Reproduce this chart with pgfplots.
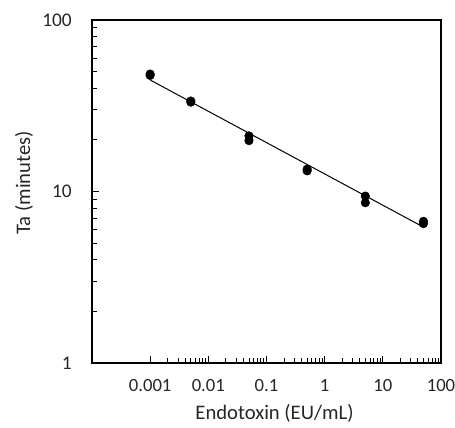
\documentclass[border=0pt]{standalone}
\usepackage{pgfplots}
\pgfplotsset{compat=1.18}
\usepackage{fontspec}
\setmainfont{Carlito}
\begin{document}
\begin{tikzpicture}
\begin{axis}[
  at={(0,0)}, anchor=south west,
  scale only axis,
  width=261.75pt, height=257.25pt,
  xmode=log, ymode=log,
  xmin=1e-4, xmax=100, ymin=1, ymax=100,
  xtick={0.001,0.01,0.1,1,10,100},
  xticklabels={0.001,0.01,0.1,1,10,100},
  ytick={1,10,100},
  yticklabels={1,10,100},
  minor x tick num=8,
  tick pos=left,
  tick align=inside,
  major tick length=5pt,
  minor tick length=3.5pt,
  axis line style={line width=1.1pt},
  every tick/.style={black, line width=0.6pt},
  /pgf/number format/assume math mode=true,
  xticklabel style={font=\fontsize{14}{16}\selectfont, text=black!85, anchor=center, inner sep=0pt, yshift=-17pt},
  yticklabel style={font=\fontsize{14.5}{16}\selectfont, text=black!85, anchor=east, inner sep=0pt, xshift=-15pt},
  xlabel={Endotoxin (EU/mL)},
  ylabel={Ta (minutes)},
  xlabel style={font=\fontsize{15.5}{18}\selectfont, text=black!85, at={(axis description cs:0.523,0)}, anchor=center, inner sep=0pt, yshift=-37.5pt},
  ylabel style={font=\fontsize{15.5}{18}\selectfont, text=black!85, at={(axis description cs:0,0.525)}, anchor=center, inner sep=0pt, yshift=51pt},
  clip=false,
]
\addplot[black, line width=0.75pt, no marks] coordinates {(0.001,44.7) (50,6.2)};
\addplot[only marks, mark=*, mark size=3.2pt, black] coordinates {
  (0.001,48.4) (0.001,47.5)
  (0.005,33.7) (0.005,33.2)
  (0.05,21.1) (0.05,19.8)
  (0.5,13.5) (0.5,13.2)
  (5,9.4) (5,8.6)
  (50,6.7) (50,6.5)
};
\end{axis}
\pgfresetboundingbox
\path (-69pt,-48.75pt) rectangle (272.25pt,272.25pt);
\end{tikzpicture}
\end{document}
